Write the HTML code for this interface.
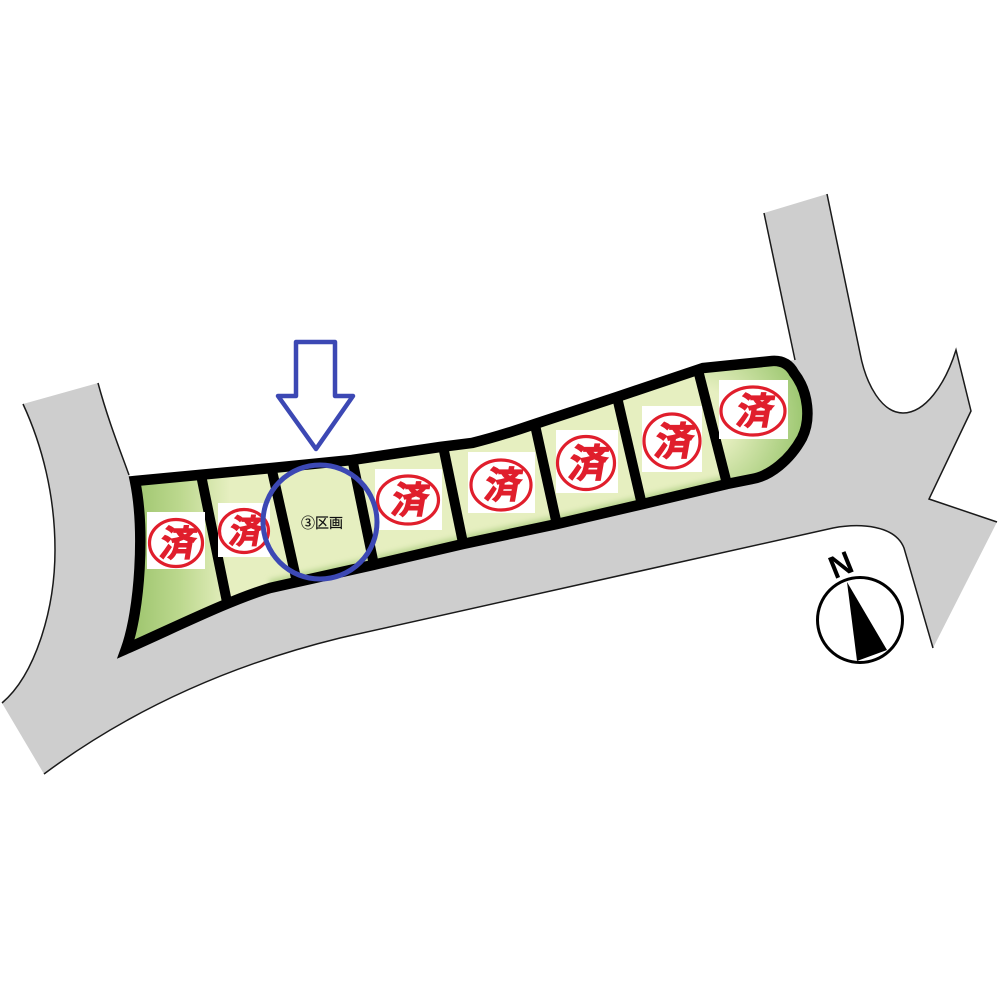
<!DOCTYPE html>
<html><head><meta charset="utf-8"><style>
html,body{margin:0;padding:0;background:#fff}
svg{display:block}
.s{font-family:"Liberation Sans","Noto Sans CJK JP",sans-serif;font-weight:700;fill:#e01e2c;stroke:#e01e2c;stroke-width:1;text-anchor:middle}
</style></head><body>
<svg width="1000" height="1000" viewBox="0 0 1000 1000" xmlns="http://www.w3.org/2000/svg">
<defs>
<path id="lot" d="M135 481 L272 468 L352 460 L440 447 L472 443 Q500 436 535 424 L617 397 L703 368 L772 361 Q787 360 794 373 C809 392 811 420 802 438 C790 460 770 476 752 479 L727 484 L643 504 L557 524 L463 544 L373 565 L270 588 C230 600 180 625 126 649 C140 610 145 530 135 481 Z"/>
<clipPath id="c"><use href="#lot"/></clipPath>
<clipPath id="c8"><path d="M698 350 L727 495 L825 495 L825 350 Z"/></clipPath>
<linearGradient id="g1" x1="0" x2="1" y1="0" y2="0"><stop offset="0" stop-color="#9cc46c"/><stop offset="0.5" stop-color="#bcd88e"/><stop offset="1" stop-color="#e6efc0"/></linearGradient>
<radialGradient id="g2" gradientUnits="userSpaceOnUse" cx="700" cy="420" r="105"><stop offset="0.3" stop-color="#e6efc0"/><stop offset="1" stop-color="#9cc770"/></radialGradient>
<filter id="b" x="-10%" y="-30%" width="120%" height="160%"><feGaussianBlur stdDeviation="3"/></filter>
</defs>
<path d="M23 404 L98 383 C108 420 120 450 129 475 L135 481 L272 468 L472 443 L703 368 L795 360 L764 213 L827 194 L860 353 C866 385 882 413 903 413 C925 413 945 385 956 350 L971 411 L929 499 L997 522 L933 648 L904 548 C895 525 860 523 833 528 L340 638 C230 665 130 710 44 774 L2 703 C35 675 55 610 55 550 C55 495 42 445 23 404 Z" fill="#cecece"/>
<g fill="none" stroke="#1a1a1a" stroke-width="1.5">
<path d="M98 383 C108 420 120 450 129 475"/>
<path d="M795 360 L764 213"/>
<path d="M827 194 L860 353 C866 385 882 413 903 413 C925 413 945 385 956 350 L971 411 L929 499 L997 522"/>
<path d="M933 648 L904 548 C895 525 860 523 833 528 L340 638 C230 665 130 710 44 774"/>
<path d="M2 703 C35 675 55 610 55 550 C55 495 42 445 23 404"/>
</g>
<use href="#lot" fill="#e6efc0"/>
<g clip-path="url(#c)">
<rect x="130" y="470" width="100" height="200" fill="url(#g1)"/>
<path d="M270 584 L373 561 L463 540 L557 520 L643 500 L727 480" fill="none" stroke="#b5d28a" stroke-width="8" filter="url(#b)"/>
<g clip-path="url(#c8)"><rect x="695" y="350" width="125" height="140" fill="url(#g2)"/></g>
</g>
<use href="#lot" fill="none" stroke="#000" stroke-width="10.5" stroke-linejoin="miter" stroke-miterlimit="8"/>
<g stroke="#000" stroke-width="10" fill="none">
<path d="M201 475 L227 602"/>
<path d="M271 466 L296 578"/>
<path d="M352 458 L374 565"/>
<path d="M443 446 L463 543"/>
<path d="M535 425 L557 525"/>
<path d="M617 397 L642 505"/>
<path d="M698 370 L727 484"/>
</g>
<g fill="#fff">
<rect x="147" y="512" width="58" height="57"/>
<rect x="218" y="503" width="52" height="54"/>
<rect x="375" y="469" width="67" height="61"/>
<rect x="468" y="452" width="67" height="61"/>
<rect x="556" y="430" width="62" height="63"/>
<rect x="642" y="406" width="60" height="66"/>
<rect x="719" y="380" width="69" height="59"/>
</g>
<g fill="none" stroke="#e01e2c" stroke-width="3.2">
<ellipse cx="176" cy="543" rx="26.5" ry="23.5"/>
<ellipse cx="244" cy="531" rx="24.5" ry="21.5"/>
<ellipse cx="408" cy="500" rx="30.5" ry="24"/>
<ellipse cx="501" cy="485" rx="30" ry="25"/>
<ellipse cx="586" cy="463" rx="28.5" ry="26.5"/>
<ellipse cx="672" cy="441" rx="28" ry="27"/>
<ellipse cx="753" cy="411" rx="32" ry="24"/>
</g>
<g>
<text class="s" font-size="36" transform="translate(176 556) skewX(-10)">済</text>
<text class="s" font-size="33" transform="translate(244 543) skewX(-10)">済</text>
<text class="s" font-size="37" transform="translate(408 513) skewX(-10)">済</text>
<text class="s" font-size="37" transform="translate(501 498) skewX(-10)">済</text>
<text class="s" font-size="39" transform="translate(586 477) skewX(-10)">済</text>
<text class="s" font-size="39" transform="translate(672 455) skewX(-10)">済</text>
<text class="s" font-size="37" transform="translate(753 424) skewX(-10)">済</text>
</g>
<text x="322" y="528" font-family="'Liberation Sans','Noto Sans CJK JP',sans-serif" font-size="14" text-anchor="middle" fill="#111" stroke="#111" stroke-width="0.2">③区画</text>
<circle cx="320" cy="522" r="57" fill="none" stroke="#3c48b4" stroke-width="5"/>
<path d="M296 342 H335 V396 H353 L316 449 L278 396 H296 Z" fill="#fff" stroke="#3c48b4" stroke-width="4.5" stroke-linejoin="round"/>
<circle cx="860" cy="620" r="42.5" fill="#fff" stroke="#000" stroke-width="3"/>
<path d="M847 582 L887 650 L857 661 Z" fill="#000"/>
<text x="0" y="0" font-family="'Liberation Sans',sans-serif" font-weight="700" font-size="32" text-anchor="middle" fill="#000" transform="translate(845 575) rotate(-22)">N</text>
</svg>
</body></html>
